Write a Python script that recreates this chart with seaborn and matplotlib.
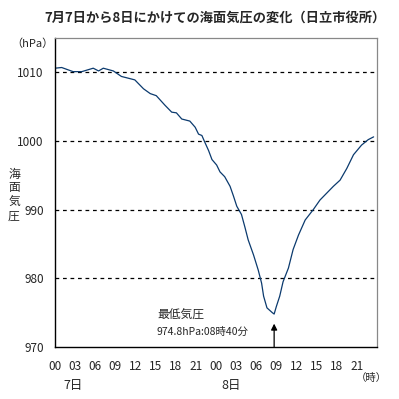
import pandas as pd
import matplotlib
matplotlib.use('Agg')
import matplotlib.pyplot as plt
import seaborn as sns

# elapsed hours from 7日 00時, and sea-level pressure (hPa)
hours = [0, 1.0, 2.7, 4.0, 5.7, 6.5, 7.2, 8.7, 9.9, 11.9, 13.2, 14.2, 15.1, 16.4,
         17.4, 18.1, 18.9, 20.1, 20.9, 21.4, 21.9, 22.3, 22.9, 23.4, 24.1, 24.6,
         25.3, 26.1, 26.6, 27.1, 27.8, 28.3, 28.8, 29.6, 30.3, 30.8, 31.1, 31.6,
         32.4, 32.67, 33.0, 33.5, 34.0, 34.8, 35.5, 36.3, 37.3, 38.5, 39.5, 40.5,
         41.5, 42.5, 43.5, 44.5, 45.7, 46.7, 47.5]
pressure = [1010.6, 1010.7, 1010.1, 1010.1, 1010.6, 1010.2, 1010.6, 1010.2, 1009.4,
            1008.9, 1007.6, 1006.9, 1006.6, 1005.2, 1004.2, 1004.1, 1003.2, 1002.9,
            1002.0, 1001.0, 1000.8, 999.9, 998.6, 997.3, 996.5, 995.5, 994.8, 993.4,
            992.0, 990.5, 989.3, 987.5, 985.6, 983.4, 981.2, 979.3, 977.4, 975.7,
            975.0, 974.8, 975.9, 977.4, 979.5, 981.5, 984.2, 986.3, 988.5, 990.0,
            991.4, 992.4, 993.4, 994.3, 996.0, 998.0, 999.4, 1000.2, 1000.6]

tick_hours = list(range(0, 48, 3))
tick_labels = ['00', '03', '06', '09', '12', '15', '18', '21'] * 2
y_ticks = [970, 980, 990, 1000, 1010]
min_hour = 32.67
min_text = '974.8hPa:08時40分'

sns.set_style('white')
plt.rcParams['font.family'] = ['Noto Sans CJK JP', 'DejaVu Sans']

df = pd.DataFrame({'hour': hours, 'hPa': pressure})

fig = plt.figure(figsize=(3.99, 3.99), dpi=100)
ax = fig.add_axes([0.1378, 0.1303, 0.807, 0.7745])

sns.lineplot(x='hour', y='hPa', data=df, ax=ax, color='#0b3a6e', linewidth=0.9)

ax.set_xlim(0, 48)
ax.set_ylim(970, 1015)
ax.set_xlabel('')
ax.set_ylabel('')

# dashed reference lines
for v in y_ticks[1:]:
    ax.axhline(v, color='black', linestyle=(0, (3, 3)), linewidth=0.9, zorder=0)

ax.set_yticks(y_ticks)
ax.set_yticklabels([str(v) for v in y_ticks], fontsize=8.5)
ax.tick_params(axis='y', length=0, pad=8)

ax.set_xticks(tick_hours)
ax.set_xticklabels(tick_labels, fontsize=8.5)
ax.set_xticks(range(0, 48), minor=True)
ax.tick_params(axis='x', which='both', direction='in', length=3, width=0.8,
               color='black', pad=9)

for side in ['left', 'bottom']:
    ax.spines[side].set_color('black')
    ax.spines[side].set_linewidth(1.0)
for side in ['top', 'right']:
    ax.spines[side].set_color('#888888')
    ax.spines[side].set_linewidth(0.9)

# lowest pressure marker
ax.annotate('', xy=(min_hour, 973.4), xytext=(min_hour, 970),
            arrowprops=dict(arrowstyle='-|>', color='black', lw=0.9,
                            mutation_scale=9, shrinkA=0, shrinkB=0))
ax.text(15.2, 974.6, '最低気圧', fontsize=8.5, ha='left', va='center')
ax.text(15.2, 972.2, min_text, fontsize=7.5, ha='left', va='center')

fig.text(215 / 399, 0.955, '7月7日から8日にかけての海面気圧の変化（日立市役所）',
         fontsize=9.5, fontweight='semibold', ha='center', va='center')
fig.text(32 / 399, 1 - 44 / 399, '（hPa）', fontsize=8, ha='center', va='center')
fig.text(14 / 399, 1 - 195 / 399, '海\n面\n気\n圧', fontsize=8.5, ha='center',
         va='center', linespacing=1.1)
fig.text(371 / 399, 1 - 378 / 399, '（時）', fontsize=7.5, ha='center', va='center')
fig.text(73 / 399, 1 - 385 / 399, '7日', fontsize=9, ha='center', va='center')
fig.text(231 / 399, 1 - 385 / 399, '8日', fontsize=9, ha='center', va='center')

fig.savefig('out.png', dpi=100, facecolor='white')
